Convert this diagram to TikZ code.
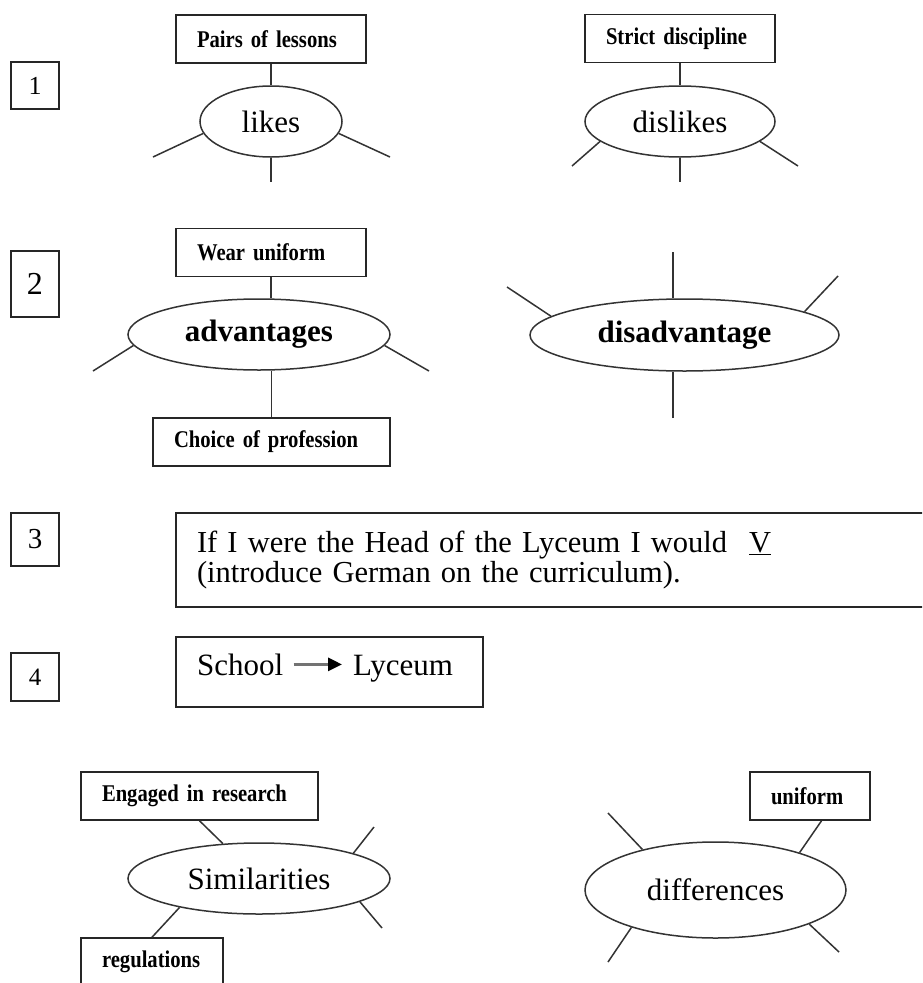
\documentclass[tikz,border=0pt]{standalone}
\usepackage{fontspec}
\setmainfont{Liberation Serif}
\newfontfamily\notefont[FakeStretch=0.86, WordSpace=0.6]{Liberation Serif}
\newfontfamily\plainfont[WordSpace=0.8]{Liberation Serif}
\usetikzlibrary{arrows.meta,shapes.geometric}

\begin{document}
\begin{tikzpicture}[
    x=1pt, y=-1pt,
    line/.style={draw=black!80, line width=1.5pt},
    numbox/.style={draw=black!85, line width=1.5pt, minimum width=48pt, inner sep=0pt, font=\fontsize{26}{26}\selectfont},
    notebox/.style={draw=black!85, line width=1.5pt, inner xsep=21pt, inner ysep=0pt, minimum height=48pt, text width=#1, align=left, font=\notefont\bfseries\fontsize{24}{24}\selectfont},
    topic/.style={ellipse, draw=black!80, line width=1.5pt, inner sep=0pt, font=\fontsize{31}{31}\selectfont},
    boldtopic/.style={topic, font=\bfseries\fontsize{31}{31}\selectfont},
    textbox/.style={draw=black!85, line width=1.5pt, inner sep=0pt, align=left, font=\plainfont\fontsize{30.5}{30}\selectfont},
    word/.style={inner sep=0pt, anchor=base west, font=\fontsize{31}{31}\selectfont},
    pointer/.style={draw=black!55, line width=3pt, -{Triangle[length=14pt, width=13pt, color=black]}}
  ]
  \fill[white] (0,0) rectangle (922,983);
  \useasboundingbox (0,0) rectangle (922,983);
  \clip (0,0) rectangle (922,983);

  % numbers
  \node[numbox, minimum height=47pt] (n1) at (35,85.5) {1};
  \node[numbox, minimum height=66pt, font=\fontsize{32}{32}\selectfont] (n2) at (35,284) {2};
  \node[numbox, minimum height=53pt, font=\fontsize{29}{29}\selectfont] (n3) at (35,539.5) {3};
  \node[numbox, minimum height=48pt, font=\fontsize{25}{25}\selectfont] (n4) at (35,677) {4};

  % 1: likes / dislikes
  \node[notebox=148pt] (pairs) at (271,39) {Pairs of lessons};
  \node[topic, minimum width=142pt, minimum height=71pt] (likes) at (271,121.5) {likes};
  \draw[line] (pairs) -- (likes);

  \node[notebox=148pt] (strict) at (680,38.5) {Strict discipline};
  \node[topic, minimum width=190pt, minimum height=71pt] (dislikes) at (680,121.5) {dislikes};
  \draw[line] (strict) -- (dislikes);

  % 2: advantages / disadvantage
  \node[notebox=148pt] (wear) at (271,252.5) {Wear uniform};
  \node[boldtopic, minimum width=262pt, minimum height=71pt] (adv) at (259,334.5) {advantages};
  \node[notebox=195pt] (choice) at (271.5,442) {Choice of profession};
  \draw[line] (wear) -- (wear |- adv.north);
  \draw[line] (choice) -- (choice |- adv.south);

  \node[boldtopic, minimum width=309pt, minimum height=72pt] (disadv) at (684.5,335) {disadvantage};
  \coordinate (dtop) at (673,252);
  \coordinate (dbot) at (673,418);
  \draw[line] (dtop) -- (dtop |- disadv.north);
  \draw[line] (dbot) -- (dbot |- disadv.south);

  % 3
  \node[textbox, minimum width=769pt, minimum height=94pt, text width=727pt] (wish) at (560.5,560)
    {If I were the Head of the Lyceum I would\hspace{22pt}\underline{V}\\(introduce German on the curriculum).};

  % 4
  \node[textbox, minimum width=307pt, minimum height=70pt] (change) at (329.5,672) {};
  \node[word] (school) at (197,675) {School};
  \node[word] (lyceum) at (353,675) {Lyceum};
  \draw[pointer, shorten <=10pt, shorten >=11pt] (school.east) -- (school.east -| lyceum.west);

  % 5: similarities / differences
  \node[notebox=195pt] (engaged) at (199.5,796) {Engaged in research};
  \node[topic, minimum width=262pt, minimum height=71pt] (simil) at (259,878.5) {Similarities};
  \node[notebox=100pt] (regul) at (152,962) {regulations};
  \draw[line] (engaged.south) -- (simil.136);
  \draw[line] (regul.north) -- (simil.200);

  \node[notebox=78pt] (unif) at (810,796) {uniform};
  \node[topic, minimum width=261pt, minimum height=96pt] (diff) at (715.5,890) {differences};
  \draw[line] (unif.295) -- (diff.24);

  % free spokes
  \foreach \n/\a/\x/\y [count=\i] in {likes/190/153/157, likes/350/390/157, likes/270/271/182,
      dislikes/194/572/166, dislikes/346/798/166, dislikes/270/680/182,
      adv/185/93/371, adv/355/429/371, disadv/172/507/287, disadv/11/838/276,
      simil/15/374/827, simil/347/382/928,
      diff/151/608/813, diff/204/608/962, diff/340/839/952}{
    \coordinate (spoke\i) at (\x,\y);
    \draw[line] (\n.\a) -- (spoke\i);
  }
\end{tikzpicture}
\end{document}
